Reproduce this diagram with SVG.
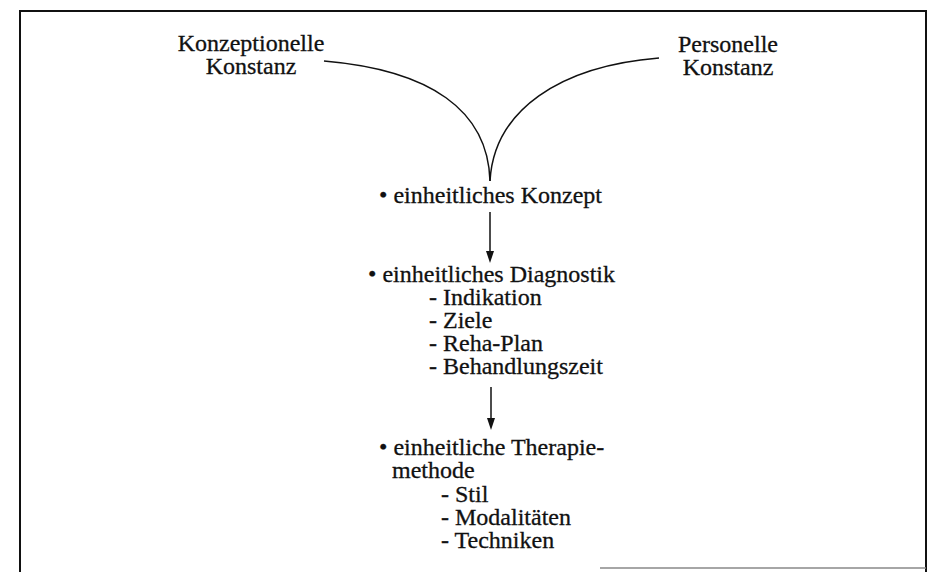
<svg xmlns="http://www.w3.org/2000/svg" width="942" height="572" viewBox="0 0 942 572">
<style>
text{font-family:"Liberation Serif","Times New Roman",serif;font-size:24px;fill:#111;stroke:#111;stroke-width:0.3}
.c{text-anchor:middle}
.frame{fill:none;stroke:#111;stroke-width:2}
.conn{fill:none;stroke:#111;stroke-width:1.5}
</style>
<defs>
<marker id="ah" markerWidth="12" markerHeight="8" refX="2" refY="4" orient="auto" markerUnits="userSpaceOnUse" viewBox="0 0 12 8">
<path d="M0,0 L12,4 L0,8 Z" fill="#111"/>
</marker>
</defs>
<rect width="942" height="572" fill="#fff"/>
<g id="frame">
<path class="frame" d="M20,572 L20,11 L926,11 L926,572"/>
<line x1="600" y1="568" x2="926" y2="568" stroke="#888" stroke-width="1.5"/>
</g>
<g id="konzeptionelle">
<text class="c" x="251" y="51">Konzeptionelle</text>
<text class="c" x="251" y="74">Konstanz</text>
</g>
<g id="personelle">
<text class="c" x="728" y="52">Personelle</text>
<text class="c" x="728" y="75">Konstanz</text>
</g>
<g id="konzept">
<text x="379" y="203">• einheitliches Konzept</text>
</g>
<g id="diagnostik">
<text x="368" y="282">• einheitliches Diagnostik</text>
<text x="429" y="305">- Indikation</text>
<text x="429" y="328">- Ziele</text>
<text x="429" y="351">- Reha-Plan</text>
<text x="429" y="374">- Behandlungszeit</text>
</g>
<g id="therapie">
<text x="379" y="455">• einheitliche Therapie-</text>
<text x="392" y="478">methode</text>
<text x="441" y="502">- Stil</text>
<text x="441" y="525">- Modalitäten</text>
<text x="441" y="548">- Techniken</text>
</g>
<g id="connectors">
<path class="conn" d="M324,61 C430,70 488,110 490,181"/>
<path class="conn" d="M659,58 C560,66 494,110 490,181"/>
<line class="conn" x1="490" y1="212" x2="490" y2="253" marker-end="url(#ah)"/>
<line class="conn" x1="491" y1="387" x2="491" y2="420" marker-end="url(#ah)"/>
</g>
</svg>
